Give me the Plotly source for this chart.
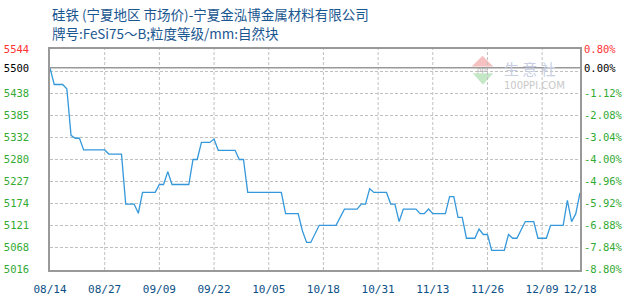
import plotly.graph_objects as go

# ---------------- data ----------------
dates = [
    "2019-08-14", "2019-08-15", "2019-08-17", "2019-08-18", "2019-08-19", "2019-08-20",
    "2019-08-21", "2019-08-22", "2019-08-27", "2019-08-28", "2019-08-31", "2019-09-01",
    "2019-09-03", "2019-09-04", "2019-09-05", "2019-09-08", "2019-09-09", "2019-09-10",
    "2019-09-11", "2019-09-12", "2019-09-16", "2019-09-17", "2019-09-18", "2019-09-19",
    "2019-09-21", "2019-09-22", "2019-09-23", "2019-09-27", "2019-09-28", "2019-09-29",
    "2019-09-30", "2019-10-08", "2019-10-09", "2019-10-12", "2019-10-13", "2019-10-14",
    "2019-10-15", "2019-10-16", "2019-10-17", "2019-10-21", "2019-10-22", "2019-10-23",
    "2019-10-26", "2019-10-27", "2019-10-28", "2019-10-29", "2019-10-30", "2019-11-02",
    "2019-11-03", "2019-11-04", "2019-11-05", "2019-11-06", "2019-11-09", "2019-11-10",
    "2019-11-11", "2019-11-12", "2019-11-13", "2019-11-16", "2019-11-17", "2019-11-18",
    "2019-11-19", "2019-11-20", "2019-11-21", "2019-11-23", "2019-11-24", "2019-11-25",
    "2019-11-26", "2019-11-27", "2019-11-30", "2019-12-01", "2019-12-02", "2019-12-03",
    "2019-12-05", "2019-12-07", "2019-12-08", "2019-12-10", "2019-12-11", "2019-12-14",
    "2019-12-15", "2019-12-16", "2019-12-17", "2019-12-18",
]
prices = [
    5500, 5460, 5460, 5450, 5338, 5331,
    5331, 5303, 5303, 5293, 5293, 5173,
    5173, 5151, 5201, 5201, 5220, 5220,
    5251, 5220, 5220, 5280, 5280, 5321,
    5321, 5329, 5302, 5302, 5280, 5280,
    5201, 5201, 5150, 5150, 5109, 5081,
    5081, 5100, 5122, 5122, 5141, 5161,
    5161, 5173, 5173, 5210, 5201, 5201,
    5173, 5173, 5131, 5161, 5161, 5150,
    5150, 5161, 5150, 5150, 5191, 5191,
    5141, 5141, 5091, 5091, 5113, 5100,
    5100, 5062, 5062, 5100, 5091, 5091,
    5131, 5131, 5091, 5091, 5122, 5122,
    5182, 5131, 5150, 5200,
]

x_tick_dates = ["2019-08-14", "2019-08-27", "2019-09-09", "2019-09-22", "2019-10-05",
                "2019-10-18", "2019-10-31", "2019-11-13", "2019-11-26", "2019-12-09",
                "2019-12-18"]
x_tick_labels = ["08/14", "08/27", "09/09", "09/22", "10/05", "10/18", "10/31",
                 "11/13", "11/26", "12/09", "12/18"]

# percentage grid (relative to first price)
pct_ticks = [0.80, -1.12, -2.08, -3.04, -4.00, -4.96, -5.92, -6.88, -7.84, -8.80]
left_labels = ["5544", "5438", "5385", "5332", "5280", "5227", "5174", "5121", "5068", "5016"]
right_labels = ["0.80%", "-1.12%", "-2.08%", "-3.04%", "-4.00%", "-4.96%", "-5.92%",
                "-6.88%", "-7.84%", "-8.80%"]
unlabeled_pct = -0.16   # extra grid line with no label

title1 = "硅铁 (宁夏地区 市场价)-宁夏金泓博金属材料有限公司"
title2 = "牌号:FeSi75～B;粒度等级/mm:自然块"

# ---------------- derived ----------------
base = prices[0]
to_price = lambda p: base * (1 + p / 100.0)
ymax = to_price(pct_ticks[0])
ymin = to_price(pct_ticks[-1])

# half-pixel padding so the grid lands on pixel centres (plot height 221 px, grid span 220 px)
PLOT_H = 221
pad = (ymax - ymin) / (PLOT_H - 1) * 0.5
pad_pct = (pct_ticks[0] - pct_ticks[-1]) / (PLOT_H - 1) * 0.5

RED, GREEN, BLACK = "#ff3333", "#33aa33", "#000000"

def colored(t, c):
    return f'<span style="color:{c}">{t}</span>'

grid_y = [to_price(p) for p in pct_ticks[1:-1]] + [to_price(unlabeled_pct)]
label_y = [to_price(p) for p in pct_ticks] + [base]
left_text = ([colored(left_labels[0], RED)] + [colored(t, GREEN) for t in left_labels[1:]]
             + [colored(str(base), BLACK)])
right_vals = pct_ticks + [0.0]
right_text = ([colored(right_labels[0], RED)] + [colored(t, GREEN) for t in right_labels[1:]]
              + [colored("0.00%", BLACK)])

border_color = "#999999"
grid_color = "#c0c0c0"
mono = "DejaVu Sans Mono"

fig = go.Figure()

# grid drawn as background line traces along axis values
hx, hy = [], []
for gy in grid_y:
    hx += [dates[0], dates[-1], None]
    hy += [gy, gy, None]
vx, vy = [], []
for gx in x_tick_dates[1:-1]:
    vx += [gx, gx, None]
    vy += [ymin - pad, ymax + pad, None]
fig.add_trace(go.Scatter(x=hx, y=hy, mode="lines", connectgaps=False,
                         line=dict(color=grid_color, width=1, dash="3px,2px"),
                         hoverinfo="skip", showlegend=False))
fig.add_trace(go.Scatter(x=vx, y=vy, mode="lines", connectgaps=False,
                         line=dict(color=grid_color, width=1, dash="3px,2px"),
                         hoverinfo="skip", showlegend=False))

fig.add_trace(go.Scatter(x=dates, y=prices, mode="lines",
                         line=dict(color="#3498db", width=1.3), hoverinfo="skip",
                         showlegend=False))
# invisible trace to activate right axis
fig.add_trace(go.Scatter(x=[dates[0]], y=[0], yaxis="y2", mode="lines",
                         line=dict(width=0), hoverinfo="skip", showlegend=False))

fig.update_layout(
    width=630, height=300,
    margin=dict(l=50, r=50, t=49, b=300 - 49 - PLOT_H, autoexpand=False),
    paper_bgcolor="white", plot_bgcolor="white",
    hovermode=False,
    xaxis=dict(
        type="date", range=[dates[0], dates[-1]],
        tickvals=x_tick_dates, ticktext=x_tick_labels,
        tickfont=dict(family=mono, size=11, color="#0b4f86"),
        showgrid=False,
        showline=True, mirror=True, linecolor=border_color, linewidth=1.5,
        ticks="", ticklabelstandoff=8, zeroline=False,
    ),
    yaxis=dict(
        range=[ymin - pad, ymax + pad], tickvals=label_y, ticktext=left_text,
        tickfont=dict(family=mono, size=10.5),
        showgrid=False,
        showline=True, mirror=True, linecolor=border_color, linewidth=1.5,
        ticks="", ticklabelstandoff=17, zeroline=False,
    ),
    yaxis2=dict(
        overlaying="y", side="right",
        range=[pct_ticks[-1] - pad_pct, pct_ticks[0] + pad_pct],
        tickvals=right_vals, ticktext=right_text,
        tickfont=dict(family=mono, size=10.5),
        showgrid=False, zeroline=False, ticks="", ticklabelstandoff=3,
        showline=False,
    ),
    font=dict(family="Noto Sans CJK SC"),
)

# solid reference line at the starting price
fig.add_shape(type="line", xref="paper", x0=0, x1=1, yref="y", y0=base, y1=base,
              line=dict(color=border_color, width=1.5), layer="above")

# titles
fig.add_annotation(text=title1, xref="paper", yref="paper", x=0, y=1.157,
                   xanchor="left", yanchor="middle", showarrow=False,
                   font=dict(family="Noto Sans CJK SC", size=13.5, color="#1a5690"))
fig.add_annotation(text=title2, xref="paper", yref="paper", x=0, y=1.073,
                   xanchor="left", yanchor="middle", showarrow=False,
                   font=dict(family="Noto Sans CJK SC", size=13.5, color="#1a5690"))

# watermark logo
fig.add_shape(type="path", xref="paper", yref="paper",
              path="M 0.816 0.9696 L 0.7957 0.9212 L 0.8364 0.9212 Z",
              fillcolor="#f6c0c0", line=dict(width=0), layer="below")
fig.add_shape(type="path", xref="paper", yref="paper",
              path="M 0.7975 0.8904 L 0.8364 0.8904 L 0.817 0.8382 Z",
              fillcolor="#c4e8c6", line=dict(width=0), layer="below")
fig.add_annotation(text="ppi", xref="paper", yref="paper", x=0.816, y=0.906,
                   xanchor="center", yanchor="middle", showarrow=False,
                   font=dict(family="DejaVu Sans", size=7, color="#b0b0b0"))
fig.add_annotation(text="生 意 社", xref="paper", yref="paper", x=0.852, y=0.911,
                   xanchor="left", yanchor="middle", showarrow=False,
                   font=dict(family="Noto Sans CJK SC", size=15, color="#c9cfe2"))
fig.add_annotation(text="100PPI.COM", xref="paper", yref="paper", x=0.852, y=0.836,
                   xanchor="left", yanchor="middle", showarrow=False,
                   font=dict(family="DejaVu Sans", size=10, color="#c8c8c8"))

fig.write_html("out.html")
